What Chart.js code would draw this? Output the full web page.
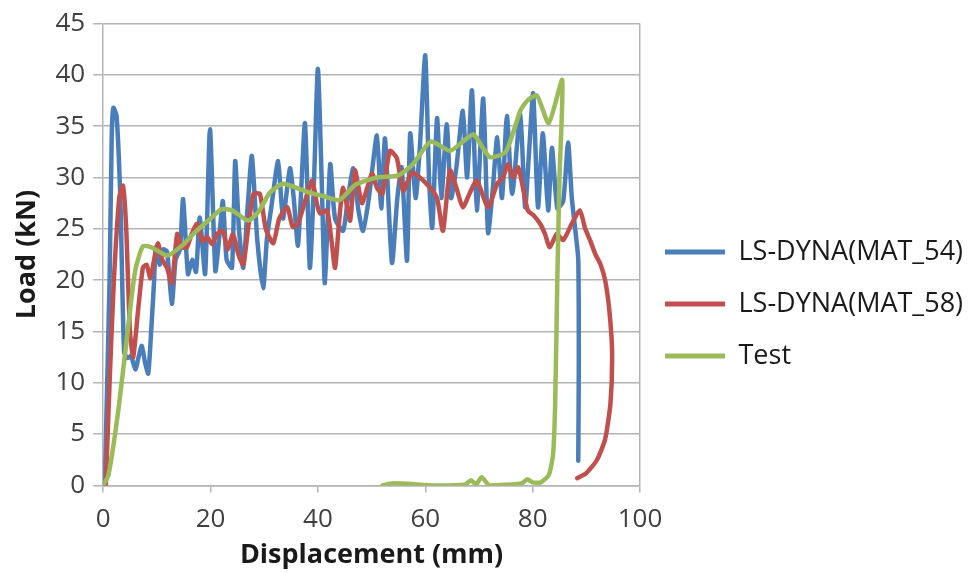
<!DOCTYPE html>
<html lang="en">
<head>
<meta charset="UTF-8">
<title>Load vs Displacement</title>
<script src="https://cdn.jsdelivr.net/npm/chart.js"></script>
<style>
  html, body { margin: 0; padding: 0; background: #fff; }
  #wrap { width: 972px; height: 573px; }
</style>
</head>
<body>
<div id="wrap"><canvas id="loadChart"></canvas></div>
<script>
// Values: displacement (mm) / load (kN)
const mat54X = [0.3, 1.2, 1.6, 1.9, 2.5, 3.2, 3.9, 4.5, 5.2, 6, 6.6, 7.2, 7.8, 8.4, 9, 9.5, 9.8, 10.5, 11.2, 11.9, 12.8, 13.5, 14.3, 14.9, 15.8, 16.6, 17.3, 18, 19, 19.9, 20.9, 21.6, 22.3, 23, 24, 24.6, 25.3, 26.1, 26.9, 27.7, 28.7, 29.8, 30.5, 31.3, 32.6, 33.5, 34.8, 35.5, 36.3, 37.6, 38.5, 39.3, 40, 40.7, 41.3, 42.3, 43.2, 44.7, 45.6, 46.6, 47.5, 48.4, 49.5, 51, 51.8, 52.5, 53.8, 54.8, 55.6, 56.6, 57.2, 58.2, 59, 60, 60.7, 61.3, 62.2, 63, 64, 64.8, 65.8, 67, 67.8, 68.7, 69.6, 70.8, 71.7, 72.6, 73.4, 74.3, 75.2, 76.2, 77.7, 78.6, 79.4, 80.1, 81, 81.9, 82.9, 83.6, 84.6, 85.7, 86.6, 87.3, 87.9, 88.5, 88.6, 88.5];
const mat54Y = [0, 20, 34, 36.8, 36, 28, 13, 12.4, 12.6, 11.3, 12.5, 13.6, 12, 10.9, 15.5, 20, 23.2, 21.5, 23, 22.8, 17.7, 22, 23, 27.9, 20.6, 22, 20.8, 26.1, 20.6, 34.7, 20.9, 24, 27.7, 22, 21.2, 31.6, 25, 21.2, 27, 32.1, 24, 19.2, 24, 27, 31.6, 26, 30.9, 28, 23.4, 35.3, 21.2, 30, 40.6, 30, 19.7, 31.3, 26, 24.8, 28, 30.9, 27, 24.8, 28, 34.1, 27, 33.8, 21.7, 28, 31, 21.9, 34.3, 28, 33, 41.9, 30, 25.1, 35.8, 28, 35.2, 28, 31, 36.5, 30, 38.5, 26.8, 37.7, 24.6, 29, 33.9, 28, 36, 28.4, 36.2, 27.1, 33, 38.2, 27.1, 34.3, 26.8, 32.9, 27, 27.7, 33.4, 28, 25.1, 22, 12, 2.4];

const mat58X = [0.5, 1.2, 2, 3, 3.7, 4.3, 5, 5.6, 6.5, 7.4, 8.1, 8.8, 9.5, 10.2, 11, 11.9, 12.8, 13.8, 14.7, 15.6, 16.5, 17.5, 18.5, 19.4, 20.3, 21.2, 22.3, 23.2, 24.2, 25.2, 26.1, 27, 28, 29.2, 30.3, 31.7, 32.8, 34.3, 35.3, 36.3, 37.5, 38.9, 39.8, 40.4, 41.7, 42.5, 43.2, 44, 44.7, 46, 46.9, 48.2, 49.2, 50.1, 51, 52, 53.4, 54.7, 55.9, 57.5, 59, 60.9, 62.2, 63.3, 64.6, 65.8, 67, 68.3, 69.6, 71.7, 73.4, 74.5, 75.4, 76.4, 77.3, 78.2, 79.1, 80.2, 81.4, 82.3, 83.2, 84.5, 85.7, 87.3, 88.8, 89.8, 90.7, 91.7, 92.6, 93.5, 94.3, 94.8, 94.5, 93.5, 92, 90, 88.3];
const mat58Y = [0, 10, 20, 28, 29.2, 25, 15, 12.5, 17, 21.2, 21.5, 20.2, 22, 23.6, 22, 21.2, 19.7, 24.5, 23.2, 23.2, 24.5, 25.5, 23.8, 24.2, 23.5, 24.5, 24.8, 23, 24.5, 22.5, 21.5, 25, 28.4, 28.4, 25, 23.6, 26, 27.1, 25.2, 25.5, 27.5, 29.7, 27.5, 26.5, 26.8, 24, 21.2, 26, 29, 25.8, 30.7, 27.5, 29, 30.4, 29, 28.4, 32.6, 31.9, 28.7, 30.5, 30, 29, 28, 24.8, 30.7, 29, 27.1, 28.5, 29.7, 27.1, 29.4, 30, 31.3, 30, 31, 29, 26.8, 26.3, 25.5, 24.5, 23.2, 24.5, 23.9, 25.5, 26.8, 25, 23.9, 22.5, 21.6, 20, 17, 13, 8, 4.5, 2.5, 1.2, 0.7];

const testX = [0, 1, 3, 5, 6, 7.4, 9, 12, 15, 17, 20, 22, 24, 27, 29, 31, 33.5, 36, 38.5, 41, 44, 47, 51, 55, 57.7, 61, 64.6, 67, 69, 72, 75, 77.7, 79, 80.8, 83, 85.5, 85, 84.6, 84.2, 83.8, 83, 81.5, 80, 79, 78, 72, 70.5, 69.5, 68.5, 67.5, 62, 54, 52];
const testY = [0, 1, 8, 17, 21, 23.3, 23.2, 22.4, 23.5, 24.6, 26, 26.9, 26.8, 25.8, 26.7, 28.5, 29.4, 29, 28.5, 28.2, 27.8, 29.3, 30, 30.2, 31.3, 33.5, 32.6, 33.5, 34.2, 32, 32.5, 36.5, 37.5, 38, 35.3, 39.5, 30, 20, 8, 3, 1, 0.3, 0.3, 0.6, 0.2, 0, 0.8, 0.1, 0.5, 0.1, 0, 0.2, 0];

const seriesNames = ['LS-DYNA(MAT_54)', 'LS-DYNA(MAT_58)', 'Test'];
const seriesColors = ['#4A7EBB', '#C0504D', '#9BBB59'];
const xTicks = [0, 20, 40, 60, 80, 100];
const yTicks = [0, 5, 10, 15, 20, 25, 30, 35, 40, 45];

function toPoints(xs, ys) {
    return xs.map((x, i) => ({ x: x, y: ys[i] }));
}

const fontFamily = "'Open Sans', 'DejaVu Sans', sans-serif";
const gridGray = '#b4b4b4';

const ctx = document.getElementById('loadChart').getContext('2d');
new Chart(ctx, {
    type: 'scatter',
    data: {
        datasets: [
            { label: seriesNames[0], data: toPoints(mat54X, mat54Y), order: 3 },
            { label: seriesNames[1], data: toPoints(mat58X, mat58Y), order: 2 },
            { label: seriesNames[2], data: toPoints(testX, testY), order: 1 }
        ].map((ds, i) => Object.assign(ds, {
            showLine: true,
            borderColor: seriesColors[i],
            backgroundColor: seriesColors[i],
            borderWidth: 4.5,
            pointRadius: 0,
            tension: 0.2,
            borderJoinStyle: 'round',
            borderCapStyle: 'round'
        }))
    },
    options: {
        responsive: true,
        maintainAspectRatio: false,
        animation: false,
        layout: { padding: { top: 14, left: 11, right: 0, bottom: 1 } },
        plugins: {
            tooltip: { enabled: false },
            legend: {
                position: 'right',
                align: 'center',
                fullSize: true,
                maxWidth: 332,
                title: { display: true, text: '', font: { size: 10 }, padding: { top: 5, bottom: 5 } },
                labels: {
                    color: '#1a1a1a',
                    font: { family: fontFamily, size: 27 },
                    boxWidth: 60,
                    boxHeight: 5,
                    padding: 25,
                    sort: (a, b) => a.datasetIndex - b.datasetIndex,
                    generateLabels: (chart) => Chart.defaults.plugins.legend.labels.generateLabels(chart)
                        .map(item => Object.assign(item, { lineWidth: 0 }))
                }
            }
        },
        scales: {
            x: {
                type: 'linear',
                min: 0,
                max: 100,
                afterBuildTicks: (axis) => { axis.ticks = xTicks.map(v => ({ value: v })); },
                ticks: { color: '#404040', font: { family: fontFamily, size: 26 }, padding: 12 },
                grid: {
                    color: (c) => (c.tick && c.tick.value === 100) ? gridGray : 'rgba(0,0,0,0)',
                    tickColor: gridGray,
                    tickLength: 7,
                    lineWidth: 1.5
                },
                border: { display: true, color: gridGray, width: 1.5 },
                title: {
                    display: true,
                    text: 'Displacement (mm)',
                    color: '#1a1a1a',
                    font: { family: fontFamily, size: 27, weight: 'bold' },
                    padding: { top: -8, bottom: 0 }
                }
            },
            y: {
                type: 'linear',
                min: 0,
                max: 45,
                afterBuildTicks: (axis) => { axis.ticks = yTicks.map(v => ({ value: v })); },
                ticks: { color: '#404040', font: { family: fontFamily, size: 26 }, padding: 8 },
                grid: {
                    color: gridGray,
                    tickColor: gridGray,
                    tickLength: 10,
                    lineWidth: 1.5
                },
                border: { display: true, color: gridGray, width: 1.5 },
                title: {
                    display: true,
                    text: 'Load (kN)',
                    color: '#1a1a1a',
                    font: { family: fontFamily, size: 27, weight: 'bold' },
                    padding: { top: 0, bottom: 4 }
                }
            }
        }
    }
});
</script>
</body>
</html>
